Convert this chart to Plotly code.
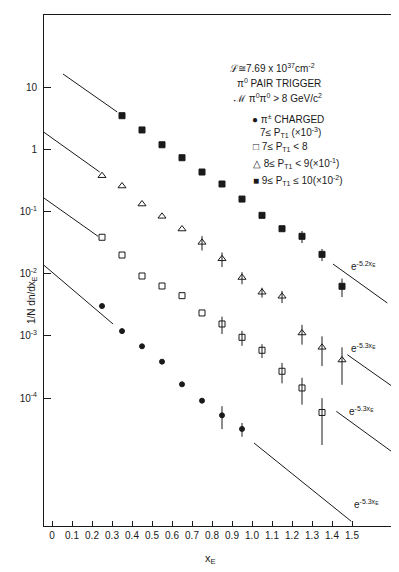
import numpy as np
import plotly.graph_objects as go

# ---- data ----
x_all = [0.25, 0.35, 0.45, 0.55, 0.65, 0.75, 0.85, 0.95, 1.05, 1.15, 1.25, 1.35, 1.45]

# filled squares: 9 <= P_T1 <= 10
sq_f_x = x_all[1:]
sq_f_y = [3.46, 2.04, 1.18, 0.73, 0.43, 0.276, 0.158, 0.0865, 0.0527, 0.0398, 0.0204, 0.00625]
sq_f_rel = [0, 0, 0, 0, 0, 0, 0, 0, 0, 0.22, 0.22, 0.33]

# open triangles: 8 <= P_T1 < 9
tri_x = x_all
tri_y = [0.375, 0.256, 0.1315, 0.0834, 0.0521, 0.0318, 0.0173, 0.00865, 0.00502, 0.00432,
         0.00111, 0.000653, 0.000408]
tri_rel = [0, 0, 0, 0, 0, 0.26, 0.26, 0.22, 0.18, 0.22, 0.35, 0.5, 0.6]

# open squares: 7 <= P_T1 < 8
sq_o_x = x_all[:12]
sq_o_y = [0.0384, 0.0199, 0.00915, 0.00632, 0.00442, 0.00233, 0.00155, 0.000946, 0.000585,
          0.000269, 0.000145, 0.0000585]
sq_o_rel = [0, 0, 0, 0, 0, 0, 0.31, 0.27, 0.25, 0.36, 0.46, 0.7]

# filled circles: charged
ci_x = x_all[:8]
ci_y = [0.00301, 0.00119, 0.000678, 0.000384, 0.000166, 0.0000906, 0.0000527, 0.0000318]
ci_rel = [0, 0, 0, 0, 0, 0, 0.40, 0.25]

# exponential guide lines (x start, x end, y start, y end)
line_x0 = [0.055, -0.04, -0.04, -0.04, 1.405, 1.4765, 1.4215, 1.01]
line_x1 = [0.3265, 0.2385, 0.23, 0.305, 1.6765, 1.72, 1.72, 1.4965]
line_y0 = [16.2, 1.87, 0.164, 0.0136, 0.01426, 0.000497, 6.11e-5, 1.89e-5]
line_y1 = [3.96, 0.43, 0.0398, 0.00155, 0.00337, 0.0001396, 1.225e-5, 1.04e-6]

x_tickvals = [0, 0.1, 0.2, 0.3, 0.4, 0.5, 0.6, 0.7, 0.8, 0.9, 1.0, 1.1, 1.2, 1.3, 1.4, 1.5]
x_ticktext = ["0", "0.1", "0.2", "0.3", "0.4", "0.5", "0.6", "0.7", "0.8", "0.9", "1.0",
              "1.1", "1.2", "1.3", "1.4", "1.5"]
y_tickvals = [10, 1, 0.1, 0.01, 0.001, 0.0001]
y_ticktext = ["10", "1", "10<sup>-1</sup>", "10<sup>-2</sup>", "10<sup>-3</sup>", "10<sup>-4</sup>"]

INK = "#1a1a1a"
FONT = "Liberation Sans"

fig = go.Figure()

for x0, x1, y0, y1 in zip(line_x0, line_x1, line_y0, line_y1):
    fig.add_trace(go.Scatter(x=[x0, x1], y=[y0, y1], mode="lines",
                             line=dict(color=INK, width=1), hoverinfo="skip",
                             showlegend=False))


def series(xs, ys, rel, symbol, size):
    ys = np.array(ys)
    err = ys * np.array(rel)
    fig.add_trace(go.Scatter(
        x=xs, y=ys, mode="markers",
        marker=dict(symbol=symbol, size=size, color=INK, line=dict(color=INK, width=1)),
        error_y=dict(type="data", array=err, symmetric=True, color=INK, thickness=1, width=0),
        showlegend=False))


series(sq_f_x, sq_f_y, sq_f_rel, "square", 6)
series(tri_x, tri_y, tri_rel, "triangle-up-open", 7)
series(sq_o_x, sq_o_y, sq_o_rel, "square-open", 6)
series(ci_x, ci_y, ci_rel, "circle", 5)

axis_common = dict(showline=True, linecolor=INK, linewidth=1, mirror=True,
                   showgrid=False, zeroline=False, ticks="inside", tickcolor=INK,
                   tickfont=dict(family=FONT, size=10, color=INK))

fig.update_xaxes(range=[-0.04, 1.72], tickvals=x_tickvals, ticktext=x_ticktext,
                 ticklen=5, ticklabelstandoff=0, **axis_common)
fig.update_yaxes(type="log", range=[-6.058, 2.158], tickvals=y_tickvals,
                 ticktext=y_ticktext, ticklen=7, ticklabelstandoff=4, **axis_common)


def px2paper(px, py):
    return (px - 36) / 352, (518 - py) / 511


texts = [
    ("ℒ≅7.69 x 10<sup>37</sup>cm<sup>-2</sup>", 220, 60),
    ("π<sup>0</sup> PAIR TRIGGER", 227, 75),
    ("ℳ π<sup>0</sup>π<sup>0</sup> > 8 GeV/c<sup>2</sup>", 223, 90),
    ("● π<sup>±</sup> CHARGED", 242, 111),
    ("7≤ P<sub>T1</sub> (×10<sup>-3</sup>)", 250, 124),
    ("□ 7≤ P<sub>T1</sub> < 8", 243, 139),
    ("△ 8≤ P<sub>T1</sub> < 9(×10<sup>-1</sup>)", 243, 155),
    ("■ 9≤ P<sub>T1</sub> ≤ 10(×10<sup>-2</sup>)", 243, 172),
]
for t, px, py in texts:
    ax, ay = px2paper(px, py)
    fig.add_annotation(text=t, x=ax, y=ay, xref="paper", yref="paper",
                       xanchor="left", yanchor="middle", showarrow=False,
                       font=dict(family=FONT, size=10, color=INK))

labels = [
    ("e<sup>-5.2x<sub>E</sub></sup>", 355, 258),
    ("e<sup>-5.3x<sub>E</sub></sup>", 355, 340),
    ("e<sup>-5.3x<sub>E</sub></sup>", 353, 403),
    ("e<sup>-5.3x<sub>E</sub></sup>", 358, 496),
]
for t, px, py in labels:
    ax, ay = px2paper(px, py)
    fig.add_annotation(text=t, x=ax, y=ay, xref="paper", yref="paper",
                       xanchor="center", yanchor="middle", showarrow=False,
                       font=dict(family=FONT, size=10, color=INK))

ax, ay = px2paper(202, 560)
fig.add_annotation(text="x<sub>E</sub>", x=ax, y=ay, xref="paper", yref="paper",
                   showarrow=False, font=dict(family=FONT, size=11, color=INK))
ax, ay = px2paper(16, 292)
fig.add_annotation(text="1/N dn/dx<sub>E</sub>", x=ax, y=ay, xref="paper", yref="paper",
                   textangle=-90, showarrow=False, font=dict(family=FONT, size=10, color=INK))

fig.update_layout(width=399, height=572, margin=dict(l=36, r=11, t=7, b=54),
                  paper_bgcolor="white", plot_bgcolor="white",
                  font=dict(family=FONT, color=INK))

fig.write_html("out.html")
